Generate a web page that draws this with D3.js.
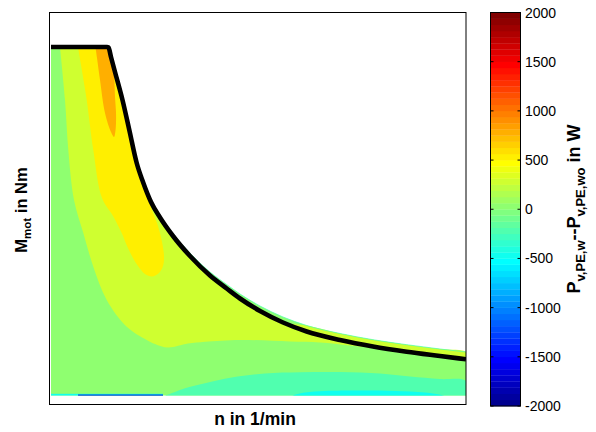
<!DOCTYPE html>
<html><head><meta charset="utf-8">
<script src="https://cdn.jsdelivr.net/npm/d3@7"></script>
<style>
body{margin:0;background:#fff;}
svg{display:block;font-family:"Liberation Sans",Arial,Helvetica,sans-serif;}
</style>
</head><body>
<svg id="chart" width="596" height="432"></svg>
<script>
// ================= DATA =================
const nDomain = [0, 12495];      // n in 1/min
const mDomain = [0, 196];        // M_mot in Nm
const colorDomain = [-2000, 2000];
const colorbarTicks = [2000, 1500, 1000, 500, 0, -500, -1000, -1500, -2000];

// torque/speed envelope (black line), [n, M]
const envelope = [[45,178.75],[1725,178.75],[1770,178.5],[1845,173.75],[1965,166.25],[2190,152.25],[2394,137.25],[2616,120.75],[2805,111.25],[3045,101.25],[3315,93.5],[3705,84.25],[4215,74.25],[4815,64.5],[5316,58],[5715,53],[6315,46.75],[7005,41],[7716,36.5],[8715,32.25],[9705,29],[10716,26.4],[11715,24.25],[12495,22.6]];

// upper edge of the evaluated map, [n, M]
const mapTop = [[45,179.5],[1755,179.5],[1845,174.5],[1965,167],[2190,153],[2394,138],[2616,121.5],[2805,112],[3045,102],[3315,94.5],[3705,85.5],[4215,75.75],[4815,66.25],[5316,60],[5715,55.25],[6315,49.25],[7005,43.75],[7716,39.5],[8715,35.5],[9705,32.4],[10716,29.9],[11715,27.75],[12495,26.25]];
const mapBottomM = 4.5;
const mapLeftN = 45;
const mapRightN = 12495;
const baseLevel = 0;

// filled contour regions (value >= level), [n, M]
const levelPos250 = [[1725,178.75],[1770,178.5],[1845,173.75],[1965,166.25],[2190,152.25],[2394,137.25],[2616,120.75],[2805,111.25],[3045,101.25],[3315,93.5],[3705,84.25],[4215,74.25],[4815,64.5],[5316,58],[5715,53],[6315,46.75],[7005,41],[7716,39.5],[8715,35.5],[9705,32.4],[10716,29.9],[11715,27.75],[12495,26.25],[12495,23.8],[11115,26.3],[9915,28],[9015,29.5],[8115,31],[7215,31.5],[5715,32.3],[4665,31.4],[4155,30.5],[3555,28.5],[3165,30.3],[2916,32.3],[2316,38.9],[1716,52.3],[1314,68.9],[1014,85.8],[735,102.3],[564,127.3],[465,152.3],[315,178.75]];
const levelPos500 = [[1725,178.75],[1770,178.5],[1845,173.75],[1965,166.25],[2190,152.25],[2394,137.25],[2616,120.75],[2805,111.25],[2925,105.5],[3075,97.25],[3255,89.25],[3375,81.25],[3435,74.25],[3405,69.25],[3285,65.75],[3075,64],[2865,65.25],[2655,69.25],[2505,73.25],[2325,79.25],[2166,85.75],[1905,94.25],[1575,103.25],[1314,127.25],[1116,152.25],[945,169.75],[855,178.75]];
const levelPos750 = [[1725,178.75],[1770,178.5],[1845,173.75],[1935,164.75],[1965,153.9],[1995,146.3],[1995,140.8],[1974,136.3],[1935,133.8],[1845,136.3],[1665,145.8],[1515,162.3],[1425,173.3],[1380,178.75]];
// regions (value <= level)
const levelNeg250 = [[3465,4.5],[3765,6.25],[4065,8.1],[4665,10.6],[5466,13.5],[6465,15.5],[7515,16.1],[8715,16.25],[9915,15.5],[10815,14],[11715,12.75],[12495,11.75],[12495,4.5]];
const levelNeg500 = [[7275,4.5],[7665,6],[8265,6.75],[9315,7],[10365,6.75],[11265,6],[11865,4.5]];
// lowest map row (very negative values near M = 0)
const bottomRow = [
  {level:-500,  n0:45,  n1:3405, m1:5.35},
  {level:-1750, n0:855, n1:3405, m1:4.95}
];

const regions = [
  {level:-250, pts:levelNeg250},
  {level:-500, pts:levelNeg500},
  {level:250,  pts:levelPos250},
  {level:500,  pts:levelPos500},
  {level:750,  pts:levelPos750}
];

// ================= DRAW =================
const svg = d3.select("#chart");
const plot = {l:49.5, t:12.5, r:466, b:404.5};
const x = d3.scaleLinear().domain(nDomain).range([plot.l, plot.r]);
const y = d3.scaleLinear().domain(mDomain).range([plot.b, plot.t]);

// MATLAB jet(64)
function jetMap(m){
  const n = Math.ceil(m/4);
  const u = [];
  for(let k=1;k<=n;k++) u.push(k/n);
  for(let k=0;k<n-1;k++) u.push(1);
  for(let k=n;k>=1;k--) u.push(k/n);
  const J = d3.range(m).map(()=>[0,0,0]);
  const off = Math.ceil(n/2) - (m%4===1?1:0);
  u.forEach((v,i)=>{
    const g = off + i + 1, r = g + n, b = g - n;
    if(g<=m) J[g-1][1]=v;
    if(r<=m) J[r-1][0]=v;
    if(b>=1) J[b-1][2]=v;
  });
  return J.map(c=>d3.rgb(Math.round(c[0]*255),Math.round(c[1]*255),Math.round(c[2]*255)).formatHex());
}
const jet = jetMap(64);
const color = d3.scaleQuantize().domain(colorDomain).range(jet);

svg.append("defs").append("clipPath").attr("id","clip")
  .append("rect").attr("x",plot.l).attr("y",plot.t).attr("width",plot.r-plot.l).attr("height",plot.b-plot.t);

const g = svg.append("g").attr("clip-path","url(#clip)");

// base map area
const basePts = [[mapLeftN,mapBottomM]].concat(mapTop).concat([[mapRightN,mapBottomM]]);
const baseLine = d3.line().x(d=>x(d[0])).y(d=>y(d[1])).curve(d3.curveMonotoneX);
g.append("path").attr("d", baseLine(basePts)+"Z").attr("fill", color(baseLevel+1));

const smooth = d3.line().x(d=>x(d[0])).y(d=>y(d[1])).curve(d3.curveCatmullRom.alpha(0.5));
regions.forEach(rg=>{
  g.append("path").attr("d", smooth(rg.pts)+"Z").attr("fill", color(rg.level+1));
});

g.selectAll("rect.row").data(bottomRow).join("rect").attr("class","row")
  .attr("x",d=>x(d.n0)).attr("width",d=>x(d.n1)-x(d.n0))
  .attr("y",d=>y(d.m1)).attr("height",d=>y(mapBottomM)-y(d.m1))
  .attr("fill",d=>color(d.level+1));

const mono = d3.line().x(d=>x(d[0])).y(d=>y(d[1])).curve(d3.curveMonotoneX);
// thin edge of the map above the envelope
g.append("path").attr("d", mono(mapTop.filter(d=>d[0]>2700)))
  .attr("fill","none").attr("stroke", color(-250+1)).attr("stroke-width",0.9).attr("opacity",0.8);

// envelope
g.append("path").attr("d", mono(envelope))
  .attr("fill","none").attr("stroke","#000").attr("stroke-width",4.6)
  .attr("stroke-linejoin","round").attr("stroke-linecap","butt");

// axes box
svg.append("rect").attr("x",plot.l).attr("y",plot.t).attr("width",plot.r-plot.l).attr("height",plot.b-plot.t)
  .attr("fill","none").attr("stroke","#000").attr("stroke-width",1);

// ---------- colorbar ----------
const cb = {l:490.5, r:520.5, t:12.5, b:406};
const cy = d3.scaleLinear().domain(colorDomain).range([cb.b, cb.t]);
const step = (colorDomain[1]-colorDomain[0])/64;
svg.append("g").selectAll("rect").data(jet).join("rect")
  .attr("x",cb.l).attr("width",cb.r-cb.l)
  .attr("y",(d,i)=>cy(colorDomain[0]+(i+1)*step))
  .attr("height",(d,i)=>cy(colorDomain[0]+i*step)-cy(colorDomain[0]+(i+1)*step)+0.3)
  .attr("fill",d=>d);
svg.append("rect").attr("x",cb.l).attr("y",cb.t).attr("width",cb.r-cb.l).attr("height",cb.b-cb.t)
  .attr("fill","none").attr("stroke","#000").attr("stroke-width",1);
const tk = svg.append("g");
colorbarTicks.forEach(v=>{
  tk.append("line").attr("x1",cb.l).attr("x2",cb.l+3).attr("y1",cy(v)).attr("y2",cy(v)).attr("stroke","#000");
  tk.append("line").attr("x1",cb.r-3).attr("x2",cb.r).attr("y1",cy(v)).attr("y2",cy(v)).attr("stroke","#000");
  tk.append("text").attr("x",525).attr("y",cy(v)).attr("dy","0.36em")
    .attr("font-size",14).attr("fill","#000").text(v);
});

// ---------- labels ----------
svg.append("text").attr("x",255).attr("y",424.5).attr("text-anchor","middle")
  .attr("font-size",17.5).attr("font-weight","bold").text("n in 1/min");

const yl = svg.append("text").attr("transform","translate(27,210) rotate(-90)")
  .attr("text-anchor","middle").attr("font-size",16.5).attr("font-weight","bold");
yl.append("tspan").text("M");
yl.append("tspan").attr("font-size",11.5).attr("dy",4).text("mot");
yl.append("tspan").attr("dy",-4).text(" in Nm");

const cl = svg.append("text").attr("transform","translate(580,209) rotate(-90)")
  .attr("text-anchor","middle").attr("font-size",18).attr("font-weight","bold");
cl.append("tspan").text("P");
cl.append("tspan").attr("font-size",13).attr("dy",5).text("v,PE,w");
cl.append("tspan").attr("dy",-5).text("--P");
cl.append("tspan").attr("font-size",13).attr("dy",5).text("v,PE,wo");
cl.append("tspan").attr("dy",-5).text(" in W");
</script>
</body></html>
